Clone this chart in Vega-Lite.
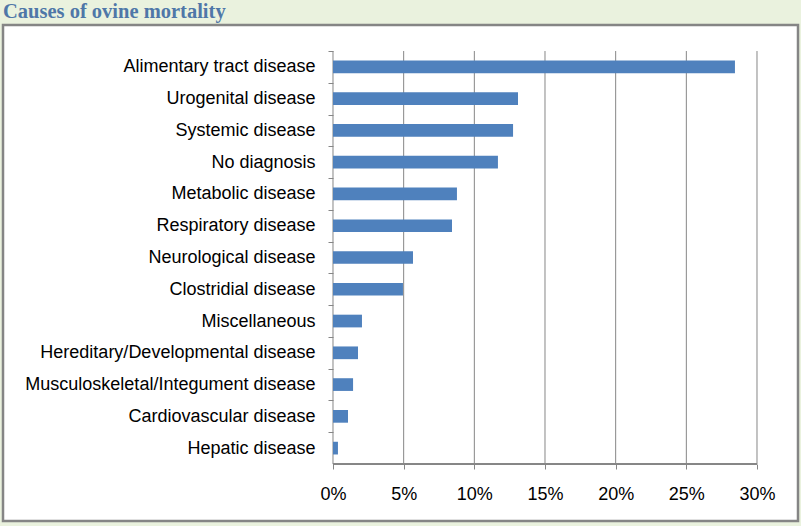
{
  "$schema": "https://vega.github.io/schema/vega-lite/v6.json",
  "width": 795,
  "height": 496,
  "autosize": {"type": "none"},
  "padding": {"left": 3, "top": 25, "right": 3, "bottom": 5},
  "background": "#eaf2de",
  "title": {
    "text": "Causes of ovine mortality",
    "anchor": "start",
    "frame": "group",
    "font": "Liberation Serif",
    "fontSize": 20.5,
    "fontWeight": "bold",
    "color": "#4f77a8",
    "offset": 3
  },
  "config": {
    "view": {"fill": "white", "stroke": "#858585", "strokeWidth": 2.5},
    "axis": {"labelFont": "Liberation Sans", "labelColor": "#000000"}
  },
  "datasets": {
    "causes": [
      {"cause": "Alimentary tract disease", "pct": 0.2844},
      {"cause": "Urogenital disease", "pct": 0.1309},
      {"cause": "Systemic disease", "pct": 0.1274},
      {"cause": "No diagnosis", "pct": 0.1167},
      {"cause": "Metabolic disease", "pct": 0.0877},
      {"cause": "Respiratory disease", "pct": 0.0842},
      {"cause": "Neurological disease", "pct": 0.0566},
      {"cause": "Clostridial disease", "pct": 0.0495},
      {"cause": "Miscellaneous", "pct": 0.0205},
      {"cause": "Hereditary/Developmental disease", "pct": 0.0177},
      {"cause": "Musculoskeletal/Integument disease", "pct": 0.0142},
      {"cause": "Cardiovascular disease", "pct": 0.0106},
      {"cause": "Hepatic disease", "pct": 0.0035}
    ],
    "gridlines": [
      {"v": 0}, {"v": 0.05}, {"v": 0.1}, {"v": 0.15}, {"v": 0.2}, {"v": 0.25}, {"v": 0.3}
    ]
  },
  "layer": [
    {
      "data": {"name": "gridlines"},
      "mark": {"type": "rule", "color": "#868686", "strokeWidth": 1},
      "encoding": {
        "x": {
          "field": "v",
          "type": "quantitative",
          "scale": {"domain": [-0.23349, 0.32901], "nice": false, "zero": false},
          "axis": {
            "orient": "bottom",
            "offset": -57,
            "values": [0, 0.05, 0.1, 0.15, 0.2, 0.25, 0.3],
            "format": ".0%",
            "domain": false,
            "grid": false,
            "ticks": true,
            "tickSize": 5,
            "tickColor": "#868686",
            "labelFontSize": 18,
            "labelPadding": 16,
            "title": null
          }
        },
        "y": {"datum": 0, "type": "quantitative", "scale": {"domain": [-1.7942, 13.819], "nice": false, "zero": false}, "axis": null},
        "y2": {"datum": 13}
      }
    },
    {
      "data": {"name": "gridlines"},
      "mark": {"type": "rule", "color": "#868686", "strokeWidth": 1},
      "encoding": {
        "x": {"datum": 0, "type": "quantitative"},
        "x2": {"datum": 0.3},
        "y": {"datum": 0, "type": "quantitative", "scale": {"domain": [-1.7942, 13.819], "nice": false, "zero": false}, "axis": null}
      }
    },
    {
      "data": {"name": "causes"},
      "mark": {"type": "bar", "color": "#4f81bd"},
      "encoding": {
        "x": {"field": "pct", "type": "quantitative"},
        "y": {
          "field": "cause",
          "type": "nominal",
          "sort": null,
          "scale": {"range": [26, 439], "paddingInner": 0.6, "paddingOuter": 0.3, "round": false},
          "axis": {
            "orient": "left",
            "offset": -330,
            "domain": false,
            "grid": false,
            "ticks": true,
            "tickOffset": -15.885,
            "labelOffset": 15.885,
            "tickSize": 5,
            "tickColor": "#868686",
            "labelFontSize": 18,
            "labelPadding": 13,
            "labelLimit": 400,
            "title": null
          }
        }
      }
    }
  ],
  "resolve": {"scale": {"y": "independent"}}
}
